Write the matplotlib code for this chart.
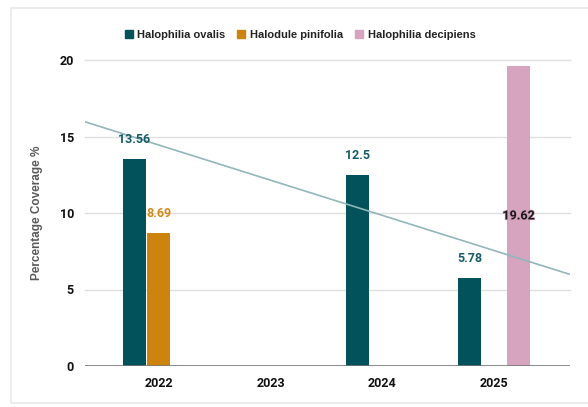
import numpy as np
import matplotlib
matplotlib.use("Agg")
import matplotlib.pyplot as plt
from matplotlib import patches
from matplotlib import patheffects
from matplotlib.lines import Line2D

plt.rcParams['font.family'] = ['Roboto', 'DejaVu Sans']
ARIAL = ['Liberation Sans', 'DejaVu Sans']

years = ['2022', '2023', '2024', '2025']
ovalis = [13.56, np.nan, 12.5, 5.78]
pinifolia = [8.69, np.nan, np.nan, np.nan]
decipiens = [np.nan, np.nan, np.nan, 19.62]
series_names = ['Halophilia ovalis', 'Halodule pinifolia', 'Halophilia decipiens']

c_ovalis = '#01525a'
c_pini = '#cd840f'
c_deci = '#d6a4bf'

fig = plt.figure(figsize=(5.88, 4.07), dpi=100)
# light frame round the chart
fig.patches.append(patches.Rectangle((11 / 588, 4 / 407), 1.0, 395 / 407,
                                     transform=fig.transFigure, fill=False,
                                     edgecolor='#ececec', linewidth=1.5))
ax = fig.add_axes([85 / 588, 1 - 366 / 407, 485 / 588, 306 / 407])

x = np.arange(len(years))
step = 0.219
width = 0.206

ax.bar(x - step, ovalis, width, color=c_ovalis, zorder=3)
ax.bar(x, pinifolia, width, color=c_pini, zorder=3)
ax.bar(x + step, decipiens, width, color=c_deci, zorder=3)

ax.set_xlim(-0.66, 3.68)
ax.set_ylim(0, 20)

# data labels
for i, v in enumerate(ovalis):
    if not np.isnan(v):
        ax.annotate(f'{v:g}', (x[i] - step, v), xytext=(0, 14), textcoords='offset points',
                    ha='center', va='center', fontsize=9, fontweight='bold',
                    color='#175d68', zorder=5)
for i, v in enumerate(pinifolia):
    if not np.isnan(v):
        ax.annotate(f'{v:g}', (x[i], v), xytext=(0, 14), textcoords='offset points',
                    ha='center', va='center', fontsize=9, fontweight='bold',
                    color='#d08a1b', zorder=5)
for i, v in enumerate(decipiens):
    if not np.isnan(v):
        ax.text(x[i] + step, v / 2, f'{v:g}', ha='center', va='center', fontsize=9,
                fontweight='bold', color='#1a1a1a', zorder=5,
                path_effects=[patheffects.withStroke(linewidth=1, foreground='#c996b2')])

# linear trendline for ovalis
ov = np.array(ovalis)
ok = ~np.isnan(ov)
slope, icpt = np.polyfit(x[ok], ov[ok], 1)
tx = np.array(ax.get_xlim())
ax.plot(tx, slope * tx + icpt, color='#93b6ba', linewidth=1.2, zorder=4)

# grid
for yv in [5, 10, 15, 20]:
    ax.axhline(yv, color='#e0e0e0', linewidth=1, zorder=1, clip_on=False)
ax.axhline(0, color='#777777', linewidth=1.2, zorder=4)

for s in ax.spines.values():
    s.set_visible(False)
ax.set_yticks([0, 5, 10, 15, 20])
ax.set_xticks(x)
ax.set_xticklabels(years)
ax.tick_params(length=0, labelsize=9, pad=8)
ax.tick_params(axis='y', pad=8)
for lab in ax.get_xticklabels() + ax.get_yticklabels():
    lab.set_fontweight('bold')
    lab.set_color('#111111')

ax.set_ylabel('Percentage Coverage %', fontsize=8.5, fontweight='bold', color='#5a5a5a',
              family=ARIAL, labelpad=12)

handles = [Line2D([], [], marker='s', linestyle='none', markersize=6, color=c)
           for c in [c_ovalis, c_pini, c_deci]]
leg = fig.legend(handles, series_names, loc='center', bbox_to_anchor=(0.51, 1 - 35 / 407),
                 ncol=3, frameon=False, handlelength=0.8, handletextpad=0.4,
                 columnspacing=1.0, prop={'size': 8, 'weight': 'bold', 'family': ARIAL})
for t in leg.get_texts():
    t.set_color('#222222')

fig.savefig('out.png', dpi=100)
